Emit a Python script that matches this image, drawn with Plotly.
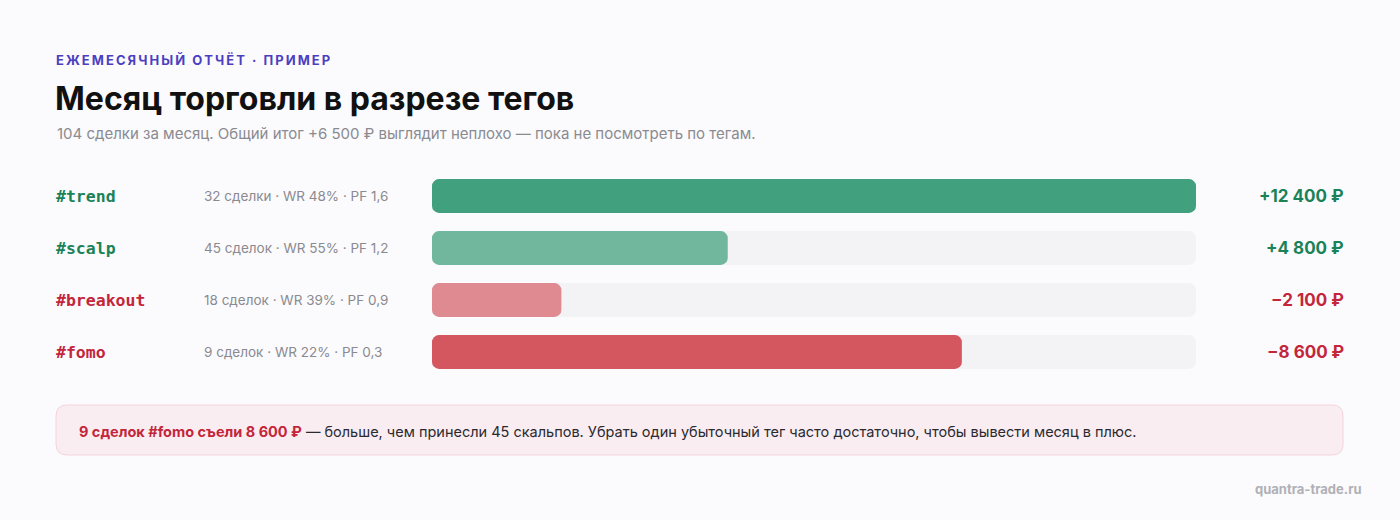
import plotly.graph_objects as go

# data
tags = ['#trend', '#scalp', '#breakout', '#fomo']
deals = [32, 45, 18, 9]
deal_words = ['сделки', 'сделок', 'сделок', 'сделок']
win_rate = [48, 55, 39, 22]
profit_factor = ['1,6', '1,2', '0,9', '0,3']
pnl = [12400, 4800, -2100, -8600]
bar_colors = ['#41a07d', '#70b79e', '#de8a90', '#d4565f']

W, H = 1400, 520
BG = '#fbfbfd'
GREEN = '#1b8258'
RED = '#c3263a'
FONT = 'Inter, Noto Sans, sans-serif'


def fmt_money(v):
    s = f'{abs(v):,}'.replace(',', '\u00a0')
    sign = '+' if v >= 0 else '\u2212'
    return f'{sign}{s}\u00a0₽'


def px_x(x):
    return x / W


def px_y(y):
    return 1 - y / H


absval = [abs(v) for v in pnl]
vmax = max(absval)
track = [vmax] * len(tags)

fig = go.Figure()


def rounded_bars(values, colors):
    # an explicit base makes plotly round both ends of the bar
    fig.add_trace(go.Bar(
        y=tags, x=values, base=[0] * len(values), orientation='h',
        marker=dict(color=colors, line=dict(width=0)),
        width=0.65, hoverinfo='skip', showlegend=False,
    ))


rounded_bars(track, '#f3f3f5')
rounded_bars(absval, bar_colors)

row_top, row_step = 170, 52
fig.update_layout(
    width=W, height=H,
    margin=dict(l=0, r=0, t=0, b=0),
    paper_bgcolor=BG, plot_bgcolor=BG,
    barmode='overlay', barcornerradius=7,
    font=dict(family=FONT),
    xaxis=dict(domain=[px_x(432), px_x(1196)], range=[0, vmax], visible=False, fixedrange=True),
    yaxis=dict(domain=[px_y(row_top + row_step * len(tags)), px_y(row_top)],
               range=[len(tags) - 0.5, -0.5], visible=False, fixedrange=True),
)

ann = []


def text(x, y, s, size, color, xanchor='left', family=FONT):
    ann.append(dict(x=px_x(x), y=px_y(y), xref='paper', yref='paper', text=s,
                    showarrow=False, xanchor=xanchor, yanchor='middle',
                    font=dict(size=size, color=color, family=family)))


# header
kicker = 'ЕЖЕМЕСЯЧНЫЙ ОТЧЁТ · ПРИМЕР'
text(54, 60, '<b>' + '\u200a\u200a'.join(kicker) + '</b>', 13, '#4b3fc0')
text(53, 98, '<b>Месяц торговли в разрезе тегов</b>', 32, '#111111')
text(55, 133, '104 сделки за месяц. Общий итог +6 500 ₽ выглядит неплохо — пока не посмотреть по тегам.',
     15, '#8a8a90')

# rows
for i, tag in enumerate(tags):
    y = row_top + row_step * (i + 0.5)
    c = GREEN if pnl[i] >= 0 else RED
    text(54, y, f'<b>{tag}</b>', 16.5, c, family='DejaVu Sans Mono, monospace')
    text(202, y, f'{deals[i]} {deal_words[i]} · WR {win_rate[i]}% · PF {profit_factor[i]}', 13.5, '#8a8a90')
    text(1346, y, f'<b>{fmt_money(pnl[i])}</b>', 17, c, xanchor='right')

# callout box, rounded rectangle in pixel units mapped to paper coords
x0, x1, y0, y1, r = 56, 1343, 405, 455, 11
corners = [
    ('M', [(x0 + r, y0)]), ('L', [(x1 - r, y0)]), ('Q', [(x1, y0), (x1, y0 + r)]),
    ('L', [(x1, y1 - r)]), ('Q', [(x1, y1), (x1 - r, y1)]), ('L', [(x0 + r, y1)]),
    ('Q', [(x0, y1), (x0, y1 - r)]), ('L', [(x0, y0 + r)]), ('Q', [(x0, y0), (x0 + r, y0)]),
]
path = ' '.join(cmd + ' ' + ' '.join(f'{px_x(a):.5f},{px_y(b):.5f}' for a, b in pts)
                for cmd, pts in corners) + ' Z'
fig.add_shape(type='path', xref='paper', yref='paper', path=path,
              fillcolor='#faedf1', line=dict(color='#f4d3db', width=1), layer='below')

text(77, 431, f'<b><span style="color:{RED}">9 сделок #fomo съели 8 600 ₽</span></b>'
     ' — больше, чем принесли 45 скальпов. Убрать один убыточный тег часто достаточно, чтобы вывести месяц в плюс.',
     14.5, '#2a2a30')

# footer
text(1364, 489, '<b>quantra-trade.ru</b>', 13, '#b0b0b6', xanchor='right')

fig.update_layout(annotations=ann)
fig.write_html('out.html', config={'displayModeBar': False},
               post_script="document.body.style.margin='0';document.body.style.background='#fbfbfd';")
